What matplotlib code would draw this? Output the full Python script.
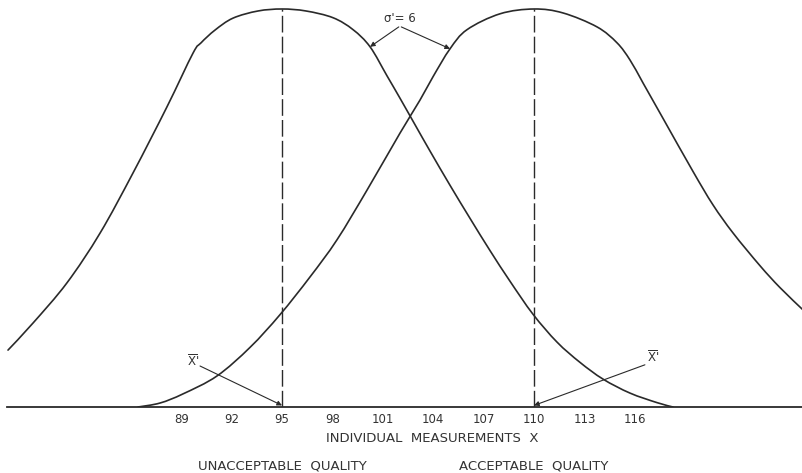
import numpy as np
import matplotlib
matplotlib.use("Agg")
import matplotlib.pyplot as plt
from matplotlib.path import Path
from matplotlib.patches import PathPatch

plt.rcParams['font.family'] = ['DejaVu Sans']
plt.rcParams['mathtext.default'] = 'regular'

# process means (unacceptable / acceptable quality)
MEAN_BAD = 95
MEAN_GOOD = 110
SIGMA_LABEL = "σ'= 6"

bad_x = [78.69, 80.18, 82.20, 84.17, 86.13, 88.15, 89.70, 90.18, 91.01, 92.08, 93.57,
         95.00, 96.43, 98.04, 99.23, 100.24, 101.25, 102.02, 102.92, 103.81, 105.00,
         106.19, 107.38, 108.57, 109.94, 111.37, 112.74, 114.11, 115.71, 117.32, 118.27]
bad_y = [0.143, 0.211, 0.312, 0.437, 0.588, 0.754, 0.889, 0.915, 0.947, 0.977, 0.995,
         1.000, 0.995, 0.978, 0.948, 0.905, 0.832, 0.776, 0.709, 0.643, 0.557,
         0.474, 0.393, 0.316, 0.233, 0.163, 0.112, 0.070, 0.035, 0.011, 0.0]

good_x = [86.43, 87.74, 89.11, 91.13, 93.10, 94.88, 96.67, 98.27, 100.06, 102.02,
          103.21, 103.99, 105.00, 106.01, 107.98, 110.00, 111.73, 113.75, 114.94,
          115.71, 116.49, 117.68, 119.46, 120.65, 121.85, 123.45, 124.64, 126.01]
good_y = [0.0, 0.010, 0.033, 0.078, 0.150, 0.232, 0.327, 0.420, 0.545, 0.688,
          0.771, 0.830, 0.900, 0.948, 0.988, 1.000, 0.990, 0.955, 0.915,
          0.872, 0.814, 0.725, 0.592, 0.508, 0.437, 0.355, 0.300, 0.244]

tick_vals = [89, 92, 95, 98, 101, 104, 107, 110, 113, 116]
tick_labels = ["89", "92", "95", "98", "101", "104", "107", "110", "113", "116"]

ink = "#2a2a2a"
txt = "#333333"


def smooth_path(xs, ys):
    # bezier curve through the read points (catmull-rom handles), drawn by matplotlib
    p = np.column_stack([xs, ys])
    p = np.vstack([p[0], p, p[-1]])
    verts = [p[1]]
    codes = [Path.MOVETO]
    for i in range(1, len(p) - 2):
        c1 = p[i] + (p[i + 1] - p[i - 1]) / 6
        c2 = p[i + 1] - (p[i + 2] - p[i]) / 6
        verts += [c1, c2, p[i + 1]]
        codes += [Path.CURVE4] * 3
    return Path(verts, codes)


fig = plt.figure(figsize=(8.03, 4.73), dpi=100)
ax = fig.add_axes([7 / 803, 66 / 473, 796 / 803, 407 / 473])

for xs, ys in ((bad_x, bad_y), (good_x, good_y)):
    ax.add_patch(PathPatch(smooth_path(xs, ys), fill=False, edgecolor=ink,
                           lw=1.2, capstyle="round"))

# dashed lines at the means
for m in (MEAN_BAD, MEAN_GOOD):
    ax.plot([m, m], [0, 1.0], color=ink, lw=1.0, linestyle=(0, (12, 3)))

ax.set_xlim(78.63, 126.01)
ax.set_ylim(0, 407 / 398)

for s in ("top", "right", "left"):
    ax.spines[s].set_visible(False)
ax.spines["bottom"].set_color(ink)
ax.spines["bottom"].set_linewidth(1.3)
ax.set_yticks([])
ax.set_xticks(tick_vals)
ax.set_xticklabels(tick_labels, fontsize=8.5, color=txt)
ax.tick_params(axis="x", length=0, pad=4)

arrow = dict(arrowstyle="-|>", color=ink, lw=0.8, mutation_scale=7,
             shrinkA=0, shrinkB=0)

# sigma label with arrows to both curves
ax.text(102.02, 0.977, SIGMA_LABEL, ha="center", va="center",
        fontsize=8.5, color=txt)
ax.annotate("", xy=(100.24, 0.905), xytext=(101.95, 0.955), arrowprops=arrow)
ax.annotate("", xy=(105.0, 0.9), xytext=(102.1, 0.955), arrowprops=arrow)

# X-bar' labels pointing to the means
ax.text(89.7, 0.115, r"$\overline{X}$'", ha="center", va="center",
        fontsize=8.5, color=txt)
ax.annotate("", xy=(MEAN_BAD, 0.004), xytext=(90.12, 0.103), arrowprops=arrow)
ax.text(117.08, 0.125, r"$\overline{X}$'", ha="center", va="center",
        fontsize=8.5, color=txt)
ax.annotate("", xy=(MEAN_GOOD, 0.004), xytext=(116.6, 0.106), arrowprops=arrow)

ax.text(103.93, -0.078, "INDIVIDUAL  MEASUREMENTS  X", ha="center", va="center",
        fontsize=9.5, color=txt, clip_on=False)
ax.text(MEAN_BAD, -0.148, "UNACCEPTABLE  QUALITY", ha="center", va="center",
        fontsize=9.5, color=txt, clip_on=False)
ax.text(MEAN_GOOD, -0.148, "ACCEPTABLE  QUALITY", ha="center", va="center",
        fontsize=9.5, color=txt, clip_on=False)

fig.savefig("out.png", dpi=100)
